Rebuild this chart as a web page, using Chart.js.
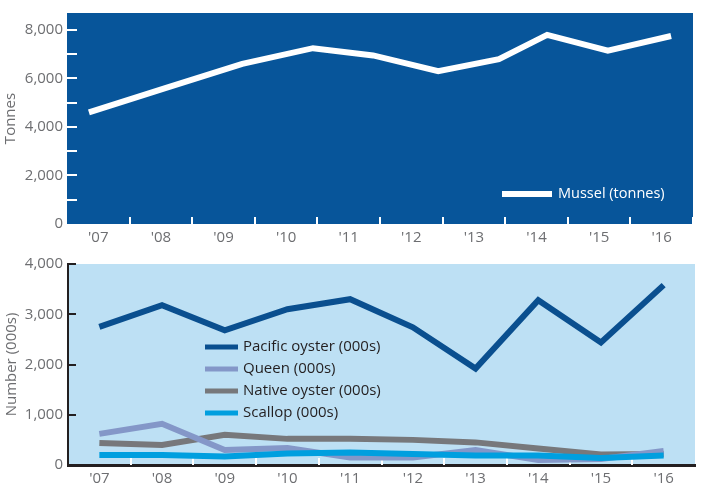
<!DOCTYPE html>
<html><head><meta charset="utf-8">
<script src="https://cdn.jsdelivr.net/npm/chart.js@4.4.0/dist/chart.umd.min.js"></script>
<style>
html,body{margin:0;padding:0;background:#fff;overflow:hidden;}
#top{position:absolute;left:0;top:0;width:703px;height:245px;}
#bot{position:absolute;left:0;top:245px;width:703px;height:248px;}
</style></head><body>
<div id="top"><canvas id="c1"></canvas></div>
<div id="bot"><canvas id="c2"></canvas></div>
<script>
// ---- data ----
const years = ["'07","'08","'09","'10","'11","'12","'13","'14","'15","'16"];
const yearNums = [2007,2008,2009,2010,2011,2012,2013,2014,2015,2016];
const musselX = [2006.85,2008.07,2009.30,2010.43,2011.39,2012.43,2013.40,2014.17,2015.14,2016.15];
const mussel = [4600,5600,6600,7250,6950,6300,6800,7800,7150,7750];
const pacificOyster = [2750,3180,2680,3100,3300,2740,1920,3280,2440,3580];
const queen = [620,820,300,340,150,150,300,100,120,280];
const nativeOyster = [440,400,600,520,520,500,450,330,210,220];
const scallop = [200,200,170,230,250,220,190,190,140,190];
const tonnesTicks = [0,2000,4000,6000,8000];
const tonnesMinor = [1000,2000,3000,4000,5000,6000,7000,8000];
const numberTicks = [0,1000,2000,3000,4000];

const FONT = "'Open Sans', 'DejaVu Sans', sans-serif";
const GREY = '#6d6e71';
const tickFont = {family: FONT, size: 15};

const areaBg = {
  id: 'areaBg',
  beforeDraw(chart, args, o) {
    const {ctx, chartArea: a} = chart;
    ctx.save(); ctx.fillStyle = o.color;
    ctx.fillRect(a.left, a.top, a.right - a.left, a.bottom - a.top);
    ctx.restore();
  }
};
const innerTicks = {
  id: 'innerTicks',
  beforeDatasetsDraw(chart, args, o) {
    const {ctx, chartArea: a, scales} = chart;
    ctx.save();
    ctx.strokeStyle = o.yColor; ctx.lineWidth = 2;
    o.yValues.forEach(v => {
      const y = Math.round(scales.y.getPixelForValue(v));
      ctx.beginPath(); ctx.moveTo(a.left, y); ctx.lineTo(a.left + o.yLen, y); ctx.stroke();
    });
    ctx.strokeStyle = o.xColor;
    o.xValues.forEach(v => {
      const x = Math.round(scales.x.getPixelForValue(v));
      ctx.beginPath(); ctx.moveTo(x, a.bottom); ctx.lineTo(x, a.bottom - o.xLen); ctx.stroke();
    });
    ctx.restore();
  }
};
const boxLegend = {
  id: 'boxLegend',
  afterDatasetsDraw(chart, args, o) {
    const {ctx, chartArea: a} = chart;
    ctx.save();
    ctx.font = o.fontSize + 'px ' + FONT;
    ctx.textBaseline = 'middle';
    chart.data.datasets.forEach((ds, i) => {
      const y = a.top + o.y + i * o.gap;
      ctx.strokeStyle = ds.borderColor; ctx.lineWidth = o.lineW; ctx.lineCap = 'butt';
      ctx.beginPath(); ctx.moveTo(a.left + o.x, y); ctx.lineTo(a.left + o.x + o.len, y); ctx.stroke();
      ctx.fillStyle = o.textColor;
      ctx.fillText(ds.label, a.left + o.x + o.len + o.textGap, y);
    });
    ctx.restore();
  }
};

const noGrid = {display: false, drawTicks: false, tickLength: 0};

new Chart(document.getElementById('c1'), {
  type: 'line',
  data: {
    datasets: [{
      label: 'Mussel (tonnes)',
      data: musselX.map((x, i) => ({x, y: mussel[i]})),
      borderColor: '#ffffff', borderWidth: 6, pointRadius: 0,
      borderJoinStyle: 'miter', tension: 0
    }]
  },
  options: {
    responsive: true, maintainAspectRatio: false, animation: false,
    layout: {padding: {top: 8, right: 10, left: 0, bottom: 0}},
    plugins: {
      legend: {display: false}, tooltip: {enabled: false},
      areaBg: {color: '#07559a'},
      innerTicks: {yValues: tonnesMinor, yColor: '#ffffff', yLen: 10,
                   xValues: yearNums.map(v => v + 0.5), xColor: '#ffffff', xLen: 7},
      boxLegend: {x: 435, y: 181, gap: 22, len: 50, lineW: 6, textGap: 6, fontSize: 14.5, textColor: '#ffffff'}
    },
    scales: {
      x: {
        type: 'linear', min: 2006.5, max: 2016.5,
        afterBuildTicks: s => { s.ticks = yearNums.map(v => ({value: v})); },
        ticks: {callback: v => years[yearNums.indexOf(v)], color: GREY, font: tickFont, padding: 5, maxRotation: 0, autoSkip: false},
        grid: noGrid, border: {display: false},
        afterFit: s => { s.height = 21; }
      },
      y: {
        min: 0, max: 8700,
        afterBuildTicks: s => { s.ticks = tonnesTicks.map(v => ({value: v})); },
        ticks: {callback: v => v.toLocaleString('en-US'), color: GREY, font: tickFont, padding: 4},
        grid: noGrid, border: {display: false},
        title: {display: true, text: 'Tonnes', color: GREY, font: tickFont, padding: {top: 2, bottom: 0}},
        afterFit: s => { s.width = 67; }
      }
    }
  },
  plugins: [areaBg, innerTicks, boxLegend]
});

new Chart(document.getElementById('c2'), {
  type: 'line',
  data: {
    labels: years,
    datasets: [
      {label: 'Pacific oyster (000s)', data: pacificOyster, borderColor: '#0a4f8f', borderWidth: 6, order: 3},
      {label: 'Queen (000s)', data: queen, borderColor: '#8497c8', borderWidth: 6, order: 1},
      {label: 'Native oyster (000s)', data: nativeOyster, borderColor: '#77787b', borderWidth: 6, order: 2},
      {label: 'Scallop (000s)', data: scallop, borderColor: '#009fdf', borderWidth: 6, order: 0}
    ].map(d => Object.assign(d, {pointRadius: 0, tension: 0, borderJoinStyle: 'miter'}))
  },
  options: {
    responsive: true, maintainAspectRatio: false, animation: false,
    layout: {padding: {top: 19, right: 8, left: 0, bottom: 0}},
    plugins: {
      legend: {display: false}, tooltip: {enabled: false},
      areaBg: {color: '#bde0f4'},
      innerTicks: {yValues: numberTicks.slice(1), yColor: '#231f20', yLen: 8,
                   xValues: years.slice(0, -1).map((_, i) => i + 0.5), xColor: '#ffffff', xLen: 7},
      boxLegend: {x: 137, y: 83, gap: 22, len: 33, lineW: 5, textGap: 5, fontSize: 15, textColor: '#231f20'}
    },
    scales: {
      x: {
        type: 'category', offset: true,
        ticks: {color: GREY, font: tickFont, padding: 5, maxRotation: 0, autoSkip: false},
        grid: Object.assign({offset: true}, noGrid), border: {display: true, color: '#231f20', width: 3},
        afterFit: s => { s.height = 28; }
      },
      y: {
        min: 0, max: 4000,
        afterBuildTicks: s => { s.ticks = numberTicks.map(v => ({value: v})); },
        ticks: {callback: v => v.toLocaleString('en-US'), color: GREY, font: tickFont, padding: 5},
        grid: noGrid, border: {display: true, color: '#231f20', width: 2},
        title: {display: true, text: 'Number (000s)', color: GREY, font: tickFont, padding: {top: 3, bottom: 0}},
        afterFit: s => { s.width = 68; }
      }
    }
  },
  plugins: [areaBg, innerTicks, boxLegend]
});
</script>
</body></html>
